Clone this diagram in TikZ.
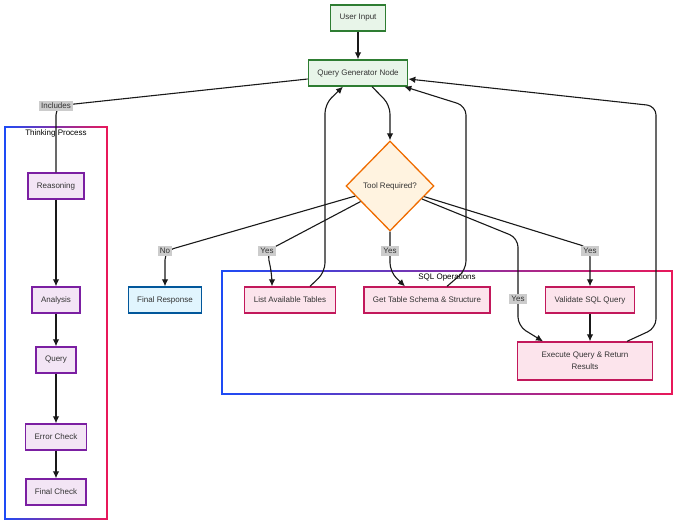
\documentclass[tikz,border=0pt]{standalone}
\usepackage{fontspec}
\setmainfont{Liberation Sans}
\usetikzlibrary{shapes.geometric,arrows.meta}
\definecolor{txt}{HTML}{333333}
\definecolor{grnF}{HTML}{E8F5E9}\definecolor{grnD}{HTML}{2E7D32}
\definecolor{orgF}{HTML}{FFF3E0}\definecolor{orgD}{HTML}{EF6C00}
\definecolor{purF}{HTML}{F3E5F5}\definecolor{purD}{HTML}{7B1FA2}
\definecolor{pnkF}{HTML}{FCE4EC}\definecolor{pnkD}{HTML}{C2185B}
\definecolor{bluF}{HTML}{E1F5FE}\definecolor{bluD}{HTML}{01579B}
\definecolor{clA}{HTML}{1E4BF5}\definecolor{clB}{HTML}{E8185A}
\definecolor{lblF}{HTML}{CCCCCC}
\begin{document}
\begin{tikzpicture}[x=1pt,y=-1pt,font=\fontsize{8}{12}\selectfont,
  box/.style={draw,line width=1.3pt,minimum height=26pt,inner xsep=9pt,text=txt},
  inbox/.style={box,fill=grnF,draw=grnD},
  thinkbox/.style={box,fill=purF,draw=purD},
  sqlbox/.style={box,fill=pnkF,draw=pnkD},
  endbox/.style={box,fill=bluF,draw=bluD},
  lbl/.style={fill=lblF,text=txt,inner sep=2pt},
  edge/.style={line width=1.1pt,draw=black!90,rounded corners=9pt},
  arr/.style={edge,-{Latex[length=7pt,width=6.5pt]}},
  clside/.style={line width=1.5pt}]
			\useasboundingbox (0,0) rectangle (679,525);
			\shade[left color=clA,right color=clB] (4.25,126.25) rectangle (107.75,127.75);
			\shade[left color=clA,right color=clB] (4.25,518.25) rectangle (107.75,519.75);
			\draw[clside,clA] (5,126.25) -- (5,519.75);
			\draw[clside,clB] (107,126.25) -- (107,519.75);
			\shade[left color=clA,right color=clB] (221.25,270.25) rectangle (672.75,271.75);
			\shade[left color=clA,right color=clB] (221.25,393.25) rectangle (672.75,394.75);
			\draw[clside,clA] (222,270.25) -- (222,394.75);
			\draw[clside,clB] (672,270.25) -- (672,394.75);
			\node (thinkL) at (56,133) {Thinking Process};
			\node (sqlL) at (447,277) {SQL Operations};
			\node[inbox] (user) at (358,18) {User Input};
			\node[inbox] (qgn) at (358,73) {Query Generator Node};
			\node[diamond,draw=orgD,fill=orgF,line width=1.3pt,text=txt,minimum width=88pt,minimum height=90pt,inner sep=0pt] (tool) at (390,186) {Tool Required?};
			\node[thinkbox] (reason) at (56,186) {Reasoning};
			\node[thinkbox] (analysis) at (56,300) {Analysis};
			\node[thinkbox] (query) at (56,360) {Query};
			\node[thinkbox] (error) at (56,437) {Error Check};
			\node[thinkbox] (final) at (56,492) {Final Check};
			\node[endbox] (resp) at (165,300) {Final Response};
			\node[sqlbox] (list) at (290,300) {List Available Tables};
			\node[sqlbox] (schema) at (427,300) {Get Table Schema \& Structure};
			\node[sqlbox] (valid) at (590,300) {Validate SQL Query};
			\node[sqlbox,minimum height=38pt,minimum width=135pt,align=center] (exec) at (585,361) {Execute Query \& Return\\Results};
			\coordinate (cInc) at (56,106);
			\coordinate (cNo) at (165,251);
			\coordinate (cY1) at (267,251);
			\coordinate (cY2) at (390,251);
			\coordinate (cY3) at (590,251);
			\coordinate (cY4) at (518,299);
			\draw[arr] (user) -- (qgn);
			\draw[arr] ([xshift=14pt]qgn.south) -- (390,105) -- (tool.north);
			\draw[edge] ([yshift=-6pt]qgn.west) -- (cInc) -- (reason.north);
			\draw[arr] (reason) -- (analysis);
			\draw[arr] (analysis) -- (query);
			\draw[arr] (query) -- (error);
			\draw[arr] (error) -- (final);
			\draw[arr] (tool) -- (cNo) -- (resp.north);
			\draw[arr] (tool) -- (cY1) -- (272,275) -- ([xshift=-18pt]list.north);
			\draw[arr] (tool) -- (cY2) -- (390,272) -- ([xshift=-22pt]schema.north);
			\draw[arr] (tool) -- (590,248) -- (valid.north);
			\draw[arr] (tool) -- (518,238) -- (cY4) -- (518,326) -- ([xshift=-42pt]exec.north);
			\draw[arr] (valid) -- (valid.south |- exec.north);
			\draw[arr] ([xshift=20pt]list.north) -- (325,272) -- (325,104) -- ([xshift=-15pt]qgn.south);
			\draw[arr] ([xshift=20pt]schema.north) -- (466,270) -- (466,106) -- ([xshift=-4pt]qgn.south east);
			\draw[arr] ([xshift=42pt]exec.north) -- (656,328) -- (656,106) -- ([yshift=-6pt]qgn.east);
			\node[lbl] (inc) at (cInc) {Includes};
			\node[lbl] (no) at (cNo) {No};
			\node[lbl] (yes1) at (cY1) {Yes};
			\node[lbl] (yes2) at (cY2) {Yes};
			\node[lbl] (yes3) at (cY3) {Yes};
			\node[lbl] (yes4) at (cY4) {Yes};
\end{tikzpicture}
\end{document}
